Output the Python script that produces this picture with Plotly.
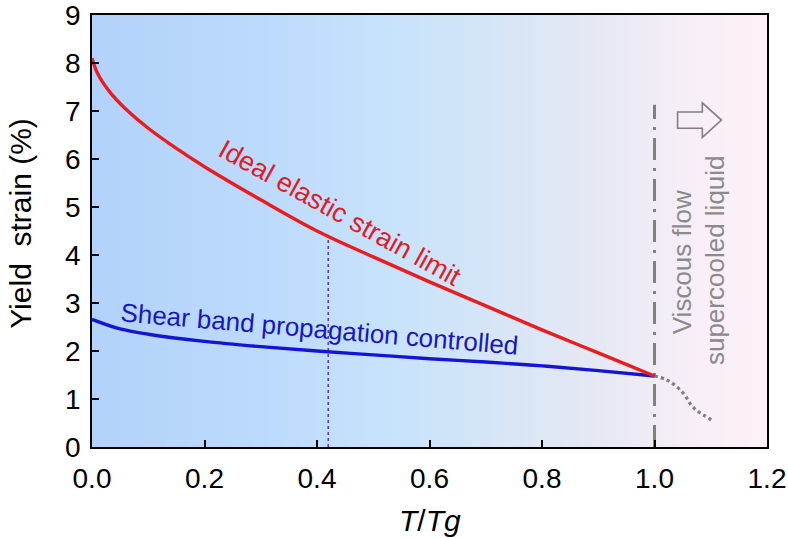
import numpy as np
import plotly.graph_objects as go

# Data
t_red = [0.0, 0.01, 0.03, 0.06, 0.1, 0.15, 0.2, 0.3, 0.4, 0.5, 0.6, 0.7, 0.8, 0.9, 1.0]
y_red = [8.1, 7.78, 7.42, 7.04, 6.64, 6.22, 5.84, 5.15, 4.50, 3.96, 3.44, 2.94, 2.44, 1.96, 1.48]

t_blue = [0.0, 0.05, 0.1, 0.2, 0.3, 0.4, 0.5, 0.6, 0.7, 0.8, 0.9, 1.0]
y_blue = [2.66, 2.46, 2.35, 2.20, 2.09, 2.00, 1.92, 1.84, 1.77, 1.69, 1.59, 1.48]

t_visc = [1.0, 1.0216, 1.039, 1.054, 1.063, 1.075, 1.088, 1.103]
y_visc = [1.48, 1.40, 1.26, 1.08, 0.91, 0.76, 0.66, 0.55]

t_tg = [1.0, 1.0]
y_tg = [0.0, 7.13]

t_mark = [0.42, 0.42]
y_mark = [0.0, 4.40]

x_ticks = [0, 0.2, 0.4, 0.6, 0.8, 1.0, 1.2]
x_ticklabels = ["0.0", "0.2", "0.4", "0.6", "0.8", "1.0", "1.2"]
y_ticks = list(range(10))

# background gradient (position along T/Tg, colour)
bg_stops = [0.0, 0.3, 0.55, 0.75, 0.9, 1.05, 1.2]
bg_colors = ["#b3d2fb", "#bcdafc", "#c8e3fb", "#d9e6f6", "#e6e8f3", "#f6eef7", "#fdf1f9"]

fig = go.Figure()

gx = np.linspace(0, 1.2, 241)
fig.add_trace(go.Heatmap(
    x=gx, y=[0, 9], z=[gx, gx],
    colorscale=[[s / 1.2, c] for s, c in zip(bg_stops, bg_colors)],
    zmin=0, zmax=1.2, showscale=False, zsmooth="best", hoverinfo="skip"))

fig.add_trace(go.Scatter(x=t_mark, y=y_mark, mode="lines",
                         line=dict(color="#5b3fa8", width=1.6, dash="dot")))
fig.add_trace(go.Scatter(x=t_tg, y=y_tg, mode="lines",
                         line=dict(color="#808080", width=3, dash="22px,8px,3px,8px")))
fig.add_trace(go.Scatter(x=t_visc, y=y_visc, mode="lines", line_shape="spline",
                         line=dict(color="#808080", width=3.2, dash="dot")))
fig.add_trace(go.Scatter(x=t_blue, y=y_blue, mode="lines", line_shape="spline",
                         line=dict(color="#1414d6", width=3.4)))
fig.add_trace(go.Scatter(x=t_red, y=y_red, mode="lines", line_shape="spline",
                         line=dict(color="#ec1c1e", width=3.4)))

# outlined arrow (decoration)
ax0, ax1, ax2 = 1.041, 1.085, 1.119
ay = 6.81
fig.add_shape(type="path",
              path=(f"M {ax0},{ay-0.17} L {ax1},{ay-0.17} L {ax1},{ay-0.36} L {ax2},{ay} "
                    f"L {ax1},{ay+0.36} L {ax1},{ay+0.17} L {ax0},{ay+0.17} Z"),
              line=dict(color="#808080", width=1.6), fillcolor="rgba(0,0,0,0)")

font = "Liberation Sans, Arial, sans-serif"
fig.add_annotation(x=0.441, y=4.88, text="Ideal elastic strain limit", showarrow=False,
                   textangle=29, font=dict(family=font, size=27, color="#e31b1f"))
fig.add_annotation(x=0.405, y=2.46, text="Shear band propagation controlled", showarrow=False,
                   textangle=4.8, font=dict(family=font, size=26, color="#1616c8"))
fig.add_annotation(x=1.049, y=3.85, text="Viscous flow", showarrow=False,
                   textangle=-90, font=dict(family=font, size=26, color="#8a8a8a"))
fig.add_annotation(x=1.108, y=3.9, text="supercooled liquid", showarrow=False,
                   textangle=-90, font=dict(family=font, size=26, color="#8a8a8a"))

# axis titles
fig.add_annotation(xref="paper", yref="paper", x=0.5, y=-0.169, yanchor="middle",
                   text="<i>T</i>/<i>Tg</i>", showarrow=False,
                   font=dict(family=font, size=30, color="black"))
fig.add_annotation(xref="paper", yref="paper", x=-0.107, y=0.5185, xanchor="center",
                   text="Yield  strain (%)", showarrow=False, textangle=-90,
                   font=dict(family=font, size=30, color="black"))

axis_common = dict(showline=True, linecolor="black", linewidth=1.5, mirror=True,
                   ticks="inside", ticklen=7, tickwidth=1.5, tickcolor="black",
                   showgrid=False, zeroline=False, automargin=False,
                   ticklabeloverflow="allow",
                   tickfont=dict(family=font, size=28, color="black"))
fig.update_xaxes(range=[0, 1.2], tickvals=x_ticks, ticktext=x_ticklabels,
                 ticklabelstandoff=6, **axis_common)
fig.update_yaxes(range=[0, 9], tickvals=y_ticks, ticklabelstandoff=4, **axis_common)

fig.update_layout(width=788, height=538, showlegend=False,
                  margin=dict(l=92, r=21, t=15, b=91),
                  paper_bgcolor="white", plot_bgcolor="white")

fig.write_html("out.html", config={"displayModeBar": False},
               post_script="document.body.style.margin='0';document.body.style.overflow='hidden';")
